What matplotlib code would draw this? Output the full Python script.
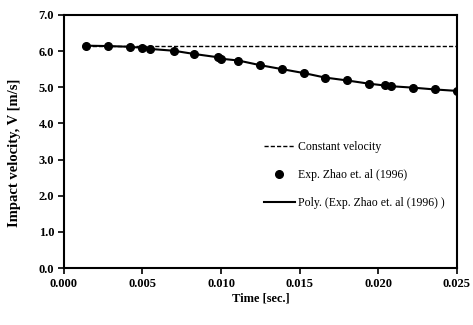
import matplotlib
matplotlib.use("Agg")
import matplotlib.pyplot as plt

plt.rcParams['font.family'] = ['Liberation Serif', 'DejaVu Serif']

time_s = [0.0014, 0.0028, 0.0042, 0.0050, 0.0055, 0.0070, 0.0083, 0.0098,
          0.0100, 0.0111, 0.0125, 0.0139, 0.0153, 0.0166, 0.0180, 0.0194,
          0.0204, 0.0208, 0.0222, 0.0236, 0.0250]
velocity = [6.15, 6.14, 6.12, 6.09, 6.06, 6.01, 5.92, 5.83,
            5.79, 5.74, 5.61, 5.50, 5.39, 5.27, 5.19, 5.10,
            5.05, 5.03, 4.99, 4.94, 4.90]
v_const = 6.15

xticks = [0.000, 0.005, 0.010, 0.015, 0.020, 0.025]
yticks = [0.0, 1.0, 2.0, 3.0, 4.0, 5.0, 6.0, 7.0]

fig = plt.figure(figsize=(4.73, 3.25), dpi=100)
ax = fig.add_axes([0.135, 0.175, 0.831, 0.779])

# constant velocity reference
ax.plot([time_s[0], 0.025], [v_const, v_const], ls=(0, (3, 1.5)), color='black',
        lw=1.0, label='Constant velocity')
ax.plot(time_s, velocity, 'o', color='black', ms=5.5, label='Exp. Zhao et. al (1996)')
# trendline following the experimental points
ax.plot(time_s, velocity, '-', color='black', lw=1.5,
        label='Poly. (Exp. Zhao et. al (1996) )')

ax.set_xlim(0, 0.025)
ax.set_ylim(0, 7)
ax.set_xticks(xticks)
ax.set_yticks(yticks)
ax.set_xticklabels([f'{v:.3f}' for v in xticks], fontweight='bold', fontsize=9)
ax.set_yticklabels([f'{v:.1f}' for v in yticks], fontweight='bold', fontsize=9)
ax.tick_params(direction='out', length=4, width=1.2, pad=3)

for s in ax.spines.values():
    s.set_linewidth(1.5)

ax.set_xlabel('Time [sec.]', fontweight='bold', fontsize=9, labelpad=2)
ax.set_ylabel('Impact velocity, V [m/s]', fontweight='bold', fontsize=10.5)
ax.yaxis.set_label_coords(-0.11, 0.455)

ax.legend(loc='upper left', bbox_to_anchor=(0.482, 0.545), frameon=False,
          fontsize=8.5, labelspacing=1.35, handlelength=2.6, handletextpad=0.3)

fig.savefig('out.png', dpi=100)
